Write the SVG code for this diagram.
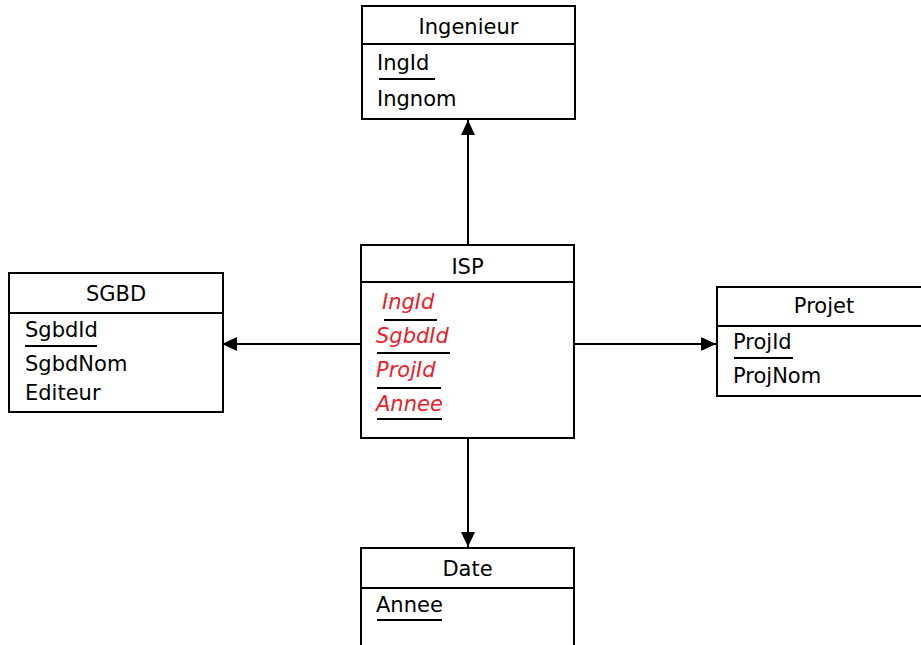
<svg xmlns="http://www.w3.org/2000/svg" width="921" height="645" viewBox="0 0 921 645">
<defs>
<style>
.box{fill:#fff;stroke:#000;stroke-width:2}
.sep{stroke:#000;stroke-width:2}
.ul{stroke:#000;stroke-width:2}
.t{font-family:"DejaVu Sans",Verdana,sans-serif;font-size:21px;fill:#000}
.c{text-anchor:middle}
.k{fill:#e8212b;font-style:italic}
.edge{stroke:#000;stroke-width:2;fill:none}
</style>
<marker id="ah" viewBox="0 0 15 14" refX="15" refY="7" markerWidth="15" markerHeight="14" markerUnits="userSpaceOnUse" orient="auto">
<path d="M0,0 L15,7 L0,14 Z" fill="#000"/>
</marker>
</defs>
<rect width="921" height="645" fill="#fff"/>
<g id="connectors">
<line class="edge" x1="468" y1="245" x2="468" y2="120" marker-end="url(#ah)"/>
<line class="edge" x1="361" y1="344" x2="222" y2="344" marker-end="url(#ah)"/>
<line class="edge" x1="575" y1="344" x2="716" y2="344" marker-end="url(#ah)"/>
<line class="edge" x1="468" y1="438" x2="468" y2="547" marker-end="url(#ah)"/>
</g>
<g id="ingenieur">
<rect class="box" x="362" y="6" width="213" height="113"/>
<line class="sep" x1="362" y1="44" x2="575" y2="44"/>
<text class="t c" x="468.5" y="34">Ingenieur</text>
<text class="t" x="377" y="70">IngId</text>
<line class="ul" x1="379" y1="79" x2="435" y2="79"/>
<text class="t" x="377" y="106">Ingnom</text>
</g>
<g id="isp">
<rect class="box" x="361" y="245" width="213" height="193"/>
<line class="sep" x1="361" y1="282" x2="574" y2="282"/>
<text class="t c" x="467.5" y="274">ISP</text>
<text class="t k" x="382" y="309">IngId</text>
<line class="ul" x1="384" y1="320" x2="437" y2="320"/>
<text class="t k" x="376" y="343">SgbdId</text>
<line class="ul" x1="377" y1="353" x2="450" y2="353"/>
<text class="t k" x="376" y="377">ProjId</text>
<line class="ul" x1="377" y1="388" x2="441" y2="388"/>
<text class="t k" x="376" y="411">Annee</text>
<line class="ul" x1="377" y1="419" x2="442" y2="419"/>
</g>
<g id="sgbd">
<rect class="box" x="9" y="273" width="214" height="139"/>
<line class="sep" x1="9" y1="313" x2="223" y2="313"/>
<text class="t c" x="116" y="301">SGBD</text>
<text class="t" x="25" y="337">SgbdId</text>
<line class="ul" x1="25" y1="346" x2="97" y2="346"/>
<text class="t" x="25" y="371">SgbdNom</text>
<text class="t" x="25" y="400">Editeur</text>
</g>
<g id="projet">
<rect class="box" x="717" y="287" width="210" height="109"/>
<line class="sep" x1="717" y1="326" x2="921" y2="326"/>
<text class="t c" x="824" y="313">Projet</text>
<text class="t" x="733" y="349">ProjId</text>
<line class="ul" x1="734" y1="358" x2="793" y2="358"/>
<text class="t" x="733" y="383">ProjNom</text>
</g>
<g id="date">
<rect class="box" x="361" y="548" width="213" height="100"/>
<line class="sep" x1="361" y1="588" x2="574" y2="588"/>
<text class="t c" x="467.5" y="576">Date</text>
<text class="t" x="376" y="612">Annee</text>
<line class="ul" x1="377" y1="620" x2="442" y2="620"/>
</g>
</svg>
